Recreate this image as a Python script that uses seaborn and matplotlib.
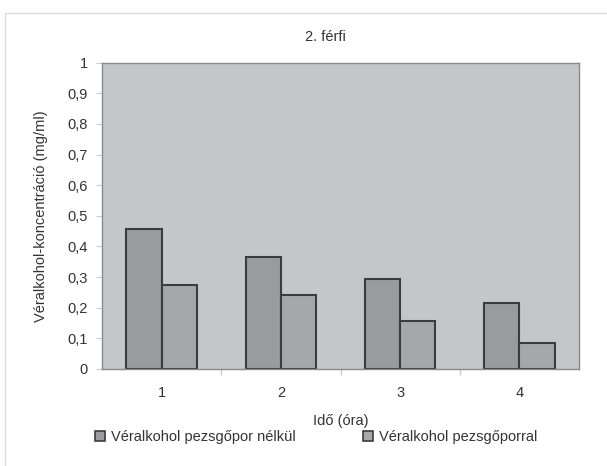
import matplotlib
matplotlib.use("Agg")
import matplotlib.pyplot as plt
import seaborn as sns
import pandas as pd
from matplotlib.patches import Rectangle

hours = ["1", "2", "3", "4"]
without_powder = [0.456, 0.365, 0.294, 0.214]
with_powder = [0.274, 0.240, 0.157, 0.084]
series_names = ["Véralkohol pezsgőpor nélkül", "Véralkohol pezsgőporral"]
yticks = [0, 0.1, 0.2, 0.3, 0.4, 0.5, 0.6, 0.7, 0.8, 0.9, 1.0]
ytick_labels = ["0", "0,1", "0,2", "0,3", "0,4", "0,5", "0,6", "0,7", "0,8", "0,9", "1"]

df = pd.DataFrame({
    "hour": hours * 2,
    "value": without_powder + with_powder,
    "series": [series_names[0]] * 4 + [series_names[1]] * 4,
})

sns.set_style("white")
plt.rcParams["font.family"] = ["Liberation Sans", "DejaVu Sans"]
text_col = "#333333"

fig = plt.figure(figsize=(6.07, 4.66), dpi=100)
# outer chart frame
fig.patches.append(Rectangle((5 / 607, -0.01), 1.0, 1 - 13 / 466 + 0.01,
                             transform=fig.transFigure, fill=False,
                             edgecolor="#dddddd", linewidth=1.0))

ax = fig.add_axes([102 / 607, 1 - 369 / 466, 477 / 607, (369 - 62.7) / 466])
ax.set_facecolor("#c5c6c8")

sns.barplot(data=df, x="hour", y="value", hue="series", ax=ax,
            palette=["#9a9b9e", "#a6a7a9"], width=0.59, dodge=True,
            edgecolor="#3c3c3c", linewidth=1.5, saturation=1, legend=False)

ax.set_ylim(0, 1)
ax.set_xlim(-0.5, 3.5)
ax.set_yticks(yticks)
ax.set_yticklabels(ytick_labels)
ax.set_xticks([0.5, 1.5, 2.5], minor=True)
ax.tick_params(axis="x", which="major", length=0, pad=12, labelsize=10.5, colors=text_col)
ax.tick_params(axis="x", which="minor", length=4, color="#cccccc", width=1, bottom=True)
ax.tick_params(axis="y", length=4, color="#cccccc", pad=6, labelsize=10.5, colors=text_col, left=True)

for side in ["top", "right", "left", "bottom"]:
    ax.spines[side].set_visible(True)
    ax.spines[side].set_color("#8a8a8a")
    ax.spines[side].set_linewidth(1.0)

ax.set_xlabel("Idő (óra)", fontsize=10.5, color=text_col, labelpad=10)
ax.set_ylabel("Véralkohol-koncentráció (mg/ml)", fontsize=10.5, color=text_col, labelpad=14)
fig.text(325 / 607, 1 - 37 / 466, "2. férfi", ha="center", va="center",
         fontsize=10.5, color=text_col)

handles = [Rectangle((0, 0), 1, 1, facecolor=c, edgecolor="#3c3c3c", linewidth=1.2)
           for c in ["#9a9b9e", "#a6a7a9"]]
fig.legend(handles, series_names, loc="center", bbox_to_anchor=(316 / 607, 1 - 437 / 466),
           ncol=2, frameon=False, fontsize=10.5, handlelength=0.7, handleheight=0.7,
           handletextpad=0.4, columnspacing=4.6, labelcolor=text_col)

fig.savefig("out.png", dpi=100)
